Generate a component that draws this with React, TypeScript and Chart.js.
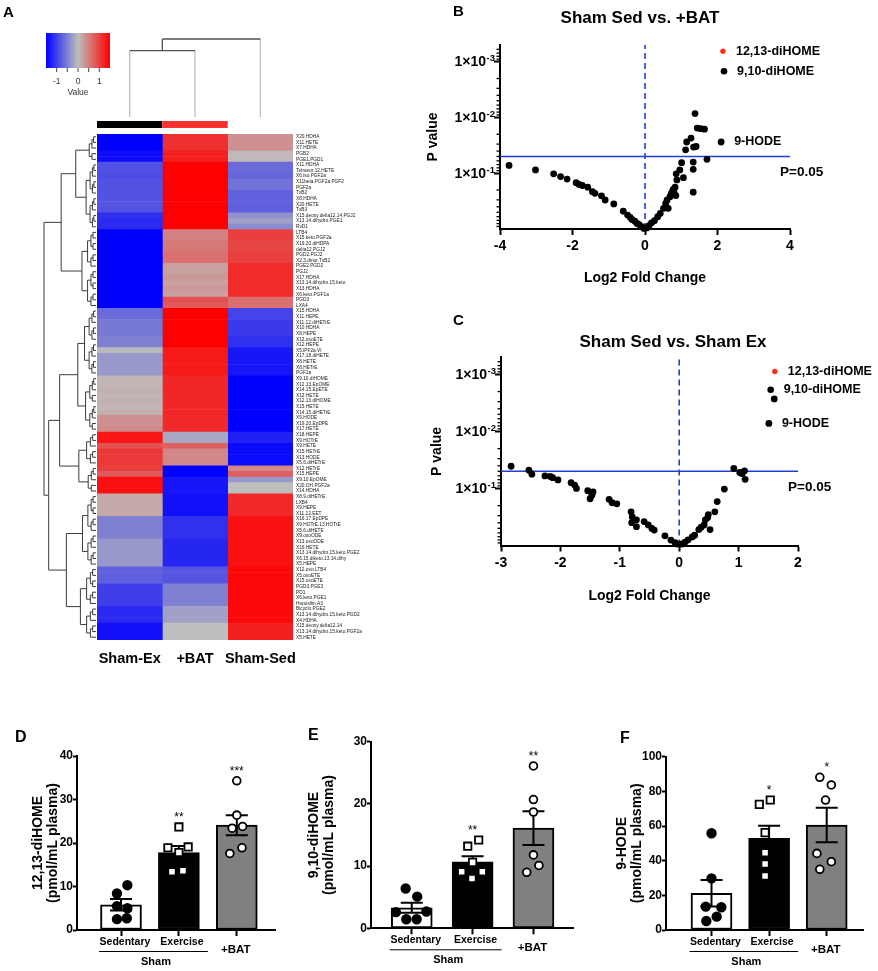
import React, { useEffect, useRef } from 'react';
import { Chart, registerables } from 'chart.js';

Chart.register(...registerables);

const FONT = '"Liberation Sans", Arial, Helvetica, sans-serif';
const bold = (size: number, lineHeight: number = 1.2) => ({ family: FONT, size, weight: 'bold' as const, lineHeight });
const plain = (size: number) => ({ family: FONT, size, weight: 'normal' as const, lineHeight: 1.2 });
const cssFont = (f: any) => `${f.weight} ${f.size}px ${f.family}`;

// ================= Panel A : heatmap =================
const heatColumns = ['Sham-Ex', '+BAT', 'Sham-Sed'];
const heatColumnGroupColors = ['#000000', '#ff3030', ''];
const heatRange = [-1.5, 1.5];
const colorbarTickValues = [-1, -0.5, 0, 0.5, 1];
const colorbarLabelValues = [-1, 0, 1];
const columnMergeDistances = [3.4, 4.0];

const heatRowLabels = [
  'X20.HDHA', 'X11.HETE', 'X7.HDHA', 'PGB2', 'PGE1.PGD1',
  'X11.HDHA', 'Tetranor.12.HETE', 'X6.iso.PGF2a', 'X11beta.PGF2a.PGF2', 'PGF2a',
  'TxB2', 'X8.HDHA', 'X20.HETE', 'TxB3',
  'X15.deoxy.delta12.14.PGJ2', 'X13.14.dihydro.PGE1', 'RvD1',
  'LTB4', 'X15.keto.PGF2a', 'X19.20.diHDPA', 'delta12.PGJ2', 'PGD2.PGJ2', 'X2.3.dinor.TxB2',
  'PGE2.PGD2', 'PGJ2', 'X17.HDHA', 'X13.14.dihydro.15.keto', 'X13.HDHA', 'X6.keto.PGF1a',
  'PGD3', 'LXA4',
  'X15.HDHA', 'X11.HEPE', 'X11.12.diHETrE', 'X10.HDHA', 'X8.HEPE', 'X12.oxoETE', 'X12.HEPE',
  'X5.iPF2a.VI', 'X17.18.diHETE', 'X8.HETE', 'X8.HETrE', 'PGF1a',
  'X9.10.diHOME', 'X12.13.EpOME', 'X14.15.EpETE', 'X12.HETE', 'X12.13.diHOME', 'X15.HETE', 'X14.15.diHETrE',
  'X9.HODE', 'X19.20.EpDPE', 'X17.HETE',
  'X18.HEPE', 'X9.HOTrE',
  'X9.HETE', 'X15.HETrE', 'X13.HODE', 'X5.6.diHETrE',
  'X12.HETrE', 'X15.HEPE',
  'X9.10.EpOME', 'X20.OH.PGF2a', 'X14.HDHA',
  'X8.9.diHETrE', 'LXB4', 'X9.HEPE', 'X11.12.EET',
  'X16.17.EpDPE', 'X9.HOTrE.13.HOTrE', 'X5.6.diHETE', 'X9.oxoODE',
  'X13.oxoODE', 'X16.HETE', 'X13.14.dihydro.15.keto.PGE2', 'X6.15.diketo.13.14.dihy', 'X5.HEPE',
  'X12.oxo.LTB4', 'X5.oxoETE', 'X15.oxoETE',
  'PGD3.PGE3', 'PD1', 'X6.keto.PGE1', 'Hepoxilin.A3',
  'Bicyclo.PGE2', 'X13.14.dihydro.15.keto.PGD2', 'X4.HDHA',
  'X15.deoxy.delta12.14', 'X13.14.dihydro.15.keto.PGF2a', 'X5.HETE',
];

const heatShamEx = [
  -1.5, -1.5, -1.5, -1.4, -1.4,
  -0.87, -0.87, -0.9, -0.85, -0.85,
  -0.85, -0.85, -0.82, -0.85,
  -1.12, -1.17, -1.17,
  -1.5, -1.5, -1.5, -1.5, -1.5, -1.5,
  -1.5, -1.5, -1.5, -1.5, -1.5, -1.5,
  -1.5, -1.5,
  -0.66, -0.66, -0.55, -0.55, -0.55, -0.49, -0.49,
  -0.05, -0.3, -0.3, -0.3, -0.3,
  0.07, 0.07, 0.1, 0.07, 0.1, 0.07, 0.1,
  0.36, 0.36, 0.4,
  1.33, 1.33,
  0.87, 1.06, 1.06, 1.06,
  1.0, 0.8,
  1.37, 1.37, 1.37,
  0.17, 0.17, 0.17, 0.17,
  -0.49, -0.49, -0.49, -0.49,
  -0.3, -0.3, -0.3, -0.3, -0.3,
  -0.74, -0.74, -0.74,
  -1.0, -1.0, -1.0, -1.0,
  -1.18, -1.18, -1.18,
  -1.37, -1.37, -1.37,
];
const heatBAT = [
  1.12, 1.12, 1.12, 1.25, 1.25,
  1.5, 1.5, 1.5, 1.5, 1.5,
  1.5, 1.5, 1.5, 1.5,
  1.5, 1.5, 1.5,
  0.49, 0.49, 0.55, 0.55, 0.62, 0.62,
  0.24, 0.24, 0.3, 0.24, 0.3, 0.24,
  0.87, 0.8,
  1.5, 1.5, 1.5, 1.5, 1.5, 1.5, 1.5,
  1.31, 1.31, 1.31, 1.31, 1.31,
  1.2, 1.2, 1.2, 1.2, 1.2, 1.2, 1.2,
  1.18, 1.18, 1.18,
  -0.17, -0.17,
  0.74, 0.43, 0.43, 0.43,
  -1.5, -1.5,
  -1.33, -1.33, -1.33,
  -1.37, -1.37, -1.37, -1.37,
  -1.12, -1.12, -1.12, -1.12,
  -1.2, -1.2, -1.2, -1.2, -1.2,
  -0.83, -0.83, -0.83,
  -0.49, -0.49, -0.49, -0.49,
  -0.24, -0.24, -0.24,
  0.0, 0.0, 0.0,
];
const heatShamSed = [
  0.36, 0.36, 0.36, 0.05, 0.05,
  -0.66, -0.66, -0.7, -0.6, -0.6,
  -0.74, -0.74, -0.74, -0.74,
  -0.36, -0.24, -0.4,
  1.0, 1.0, 0.95, 0.95, 1.0, 1.0,
  1.17, 1.17, 1.17, 1.17, 1.17, 1.17,
  0.62, 0.62,
  -0.96, -0.96, -1.04, -1.04, -1.04, -1.12, -1.12,
  -1.31, -1.33, -1.33, -1.33, -1.33,
  -1.5, -1.5, -1.5, -1.5, -1.5, -1.5, -1.5,
  -1.5, -1.5, -1.5,
  -1.25, -1.25,
  -1.42, -1.42, -1.42, -1.42,
  0.43, 0.74,
  -0.3, 0.0, 0.0,
  1.18, 1.18, 1.18, 1.18,
  1.37, 1.37, 1.37, 1.37,
  1.37, 1.37, 1.37, 1.37, 1.37,
  1.44, 1.44, 1.44,
  1.44, 1.44, 1.44, 1.44,
  1.44, 1.44, 1.44,
  1.25, 1.25, 1.25,
];

// row clustering (merge distances; a block is a run of adjacent rows)
type TreeNode = { h: number; kids: TreeNode[] } | { leaf: number };
const join = (h: number, a: TreeNode, b: TreeNode): TreeNode => ({ h, kids: [a, b] });
const block = (first: number, last: number, h: number): TreeNode => {
  if (first === last) return { leaf: first };
  const mid = Math.floor((first + last) / 2);
  return join(h, block(first, mid, h * 0.6), block(mid + 1, last, h * 0.6));
};
const rowTree = join(10,
  join(6.7, join(3.9, block(0, 4, 1.3), block(5, 16, 1.9)), block(17, 30, 2.7)),
  join(9.1,
    join(7.0,
      join(3.5, block(31, 42, 2.2), block(43, 52, 2.0)),
      join(3.3, block(53, 58, 1.8), block(59, 63, 1.5))),
    join(5.7, block(64, 76, 2.6), block(77, 89, 3.0))));

// ================= Panels B, C : volcano =================
const pThreshold = 0.05;
const volcanoYMax = 3.3;
const volcanoYTicks = [1, 2, 3];
const labeledNames = ['12,13-diHOME', '9,10-diHOME', '9-HODE'];
const labeledColors = ['#ff2a1a', '#000000', '#000000'];
const labeledRadii = [2.7, 3.3, 3.4];

const bXTicks = [-4, -2, 0, 2, 4];
const bLog2FC = [-3.75, -3.02, -2.52, -2.33, -2.15, -1.90, -1.82, -1.73, -1.58, -1.45,
  -1.38, -1.20, -1.10, -0.86, -0.60, -0.48, -0.41, -0.36, -0.28, -0.22,
  -0.16, -0.09, -0.03, 0.05, 0.11, 0.18, 0.26, 0.35, 0.42, 0.51,
  0.57, 0.61, 0.64, 0.69, 0.73, 0.78, 0.83, 0.72, 0.80, 0.85,
  0.76, 0.88, 0.86, 0.96, 1.06, 1.01, 1.12, 1.15, 1.27, 1.33,
  1.33, 1.34, 1.41, 1.33, 1.38, 1.44, 1.54, 1.64, 1.71];
const bNegLog10P = [1.14, 1.06, 0.99, 0.94, 0.895, 0.83, 0.80, 0.78, 0.75, 0.67,
  0.64, 0.595, 0.52, 0.45, 0.32, 0.25, 0.21, 0.17, 0.14, 0.10,
  0.08, 0.04, 0.01, 0.02, 0.06, 0.11, 0.15, 0.22, 0.28, 0.37,
  0.46, 0.52, 0.37, 0.58, 0.64, 0.71, 0.75, 0.62, 0.66, 0.60,
  0.68, 0.88, 0.99, 1.06, 0.92, 1.19, 1.42, 1.56, 1.63, 1.20,
  1.07, 1.47, 1.48, 0.66, 2.07, 1.81, 1.80, 1.79, 1.25];
const bLabelFC = [2.15, 2.18, 2.10];
const bLabelNLP = [3.19, 2.83, 1.56];

const cXTicks = [-3, -2, -1, 0, 1, 2];
const cLog2FC = [-2.83, -2.53, -2.48, -2.26, -2.17, -2.13, -2.04, -1.82, -1.76, -1.73,
  -1.54, -1.45, -1.50, -1.47, -1.18, -1.13, -1.05, -0.81, -0.79, -0.80,
  -0.72, -0.72, -0.59, -0.52, -0.46, -0.42, -0.24, -0.14, -0.07, -0.03,
  0.04, 0.10, 0.15, 0.22, 0.26, 0.33, 0.37, 0.42, 0.44, 0.48,
  0.49, 0.52, 0.60, 0.64, 0.76, 0.92, 1.02, 1.06, 1.10, 1.11, 1.60];
const cNegLog10P = [1.39, 1.32, 1.25, 1.22, 1.21, 1.19, 1.15, 1.10, 1.06, 1.00,
  0.96, 0.94, 0.82, 0.88, 0.81, 0.75, 0.73, 0.59, 0.50, 0.40,
  0.45, 0.33, 0.42, 0.36, 0.30, 0.27, 0.17, 0.096, 0.05, 0.026,
  0.026, 0.06, 0.10, 0.15, 0.18, 0.28, 0.32, 0.36, 0.45, 0.49,
  0.54, 0.28, 0.59, 0.77, 0.99, 1.35, 1.28, 1.26, 1.31, 1.16, 2.57];
const cLabelFC = [1.61, 1.54, 1.51];
const cLabelNLP = [3.05, 2.73, 2.14];

// ================= Panels D, E, F : bars =================
const barCategories = ['Sedentary', 'Exercise', '+BAT'];
const barGroupLabel = 'Sham';
const barFills = ['#ffffff', '#000000', '#808080'];

const dYTicks = [0, 10, 20, 30, 40];
const dMean = [5.8, 17.8, 24.1];
const dSem = [1.3, 1.5, 2.3];
const dSedentary = [10.3, 8.4, 5.5, 5.0, 2.5, 2.7];
const dExercise = [23.7, 18.9, 19.1, 17.8, 13.4, 13.6];
const dBAT = [34.3, 26.4, 23.4, 23.8, 17.6, 18.9];
const dSedJitter = [0.11, -0.07, -0.07, 0.11, -0.07, 0.1];
const dExJitter = [0, -0.19, 0.16, 0, -0.12, 0.07];
const dBatJitter = [0, 0, -0.08, 0.1, -0.12, 0.09];
const dSignif = ['', '**', '***'];

const eYTicks = [0, 10, 20, 30];
const eMean = [3.3, 10.7, 16.1];
const eSem = [0.8, 0.9, 2.7];
const eSedentary = [6.4, 5.1, 2.6, 2.7, 1.45, 1.45];
const eExercise = [13.2, 14.2, 9.1, 9.1, 10.6, 8.0];
const eBAT = [26.1, 20.7, 18.7, 11.8, 9.0, 10.1];
const eSedJitter = [-0.1, 0.09, -0.26, 0.24, -0.09, 0.08];
const eExJitter = [-0.08, 0.1, -0.18, 0.16, 0, -0.01];
const eBatJitter = [0, 0, 0, 0, -0.11, 0.09];
const eSignif = ['', '**', '**'];

const fYTicks = [0, 20, 40, 60, 80, 100];
const fMean = [21.2, 52.9, 60.6];
const fSem = [7.7, 7.3, 10.0];
const fSedentary = [55.8, 29.8, 13.5, 13.1, 5.2, 7.7];
const fExercise = [72.5, 75.0, 56.2, 44.6, 38.1, 31.2];
const fBAT = [88.1, 83.7, 75.0, 44.2, 39.4, 35.0];
const fSedJitter = [0, 0, -0.1, 0.17, -0.09, 0.09];
const fExJitter = [-0.17, 0.02, -0.07, -0.07, -0.07, -0.07];
const fBatJitter = [-0.12, 0.08, -0.02, -0.17, 0.08, -0.12];
const fSignif = ['', '*', '*'];

// ================= helpers =================
function heatColor(v: number): string {
  const t = Math.max(-1, Math.min(1, v / heatRange[1]));
  const g = 190;
  let c: number[];
  if (t < 0) {
    const a = -t;
    c = [g * (1 - a), g * (1 - a), g + (255 - g) * a];
  } else {
    c = [g + (255 - g) * t, g * (1 - t), g * (1 - t)];
  }
  return `rgb(${c.map((n) => Math.round(n)).join(',')})`;
}

function drawTree(ctx: any, node: any, leafX: number, unit: number, yOf: (i: number) => number): { x: number; y: number } {
  if ('leaf' in node) return { x: leafX, y: yOf(node.leaf) };
  const a = drawTree(ctx, node.kids[0], leafX, unit, yOf);
  const b = drawTree(ctx, node.kids[1], leafX, unit, yOf);
  const x = leafX - node.h * unit;
  ctx.beginPath();
  ctx.moveTo(a.x, a.y);
  ctx.lineTo(x, a.y);
  ctx.lineTo(x, b.y);
  ctx.lineTo(b.x, b.y);
  ctx.stroke();
  return { x, y: (a.y + b.y) / 2 };
}

const seg = (ctx: any, x1: number, y1: number, x2: number, y2: number) => {
  ctx.beginPath();
  ctx.moveTo(x1, y1);
  ctx.lineTo(x2, y2);
  ctx.stroke();
};

// ================= Heatmap =================
const heatDecorPlugin = {
  id: 'heatDecor',
  afterDraw(chart: any) {
    const { ctx, chartArea: ca } = chart;
    const xs = chart.scales.x;
    const ys = chart.scales.y;
    ctx.save();
    ctx.fillStyle = '#000';
    ctx.font = cssFont(bold(15));
    ctx.textAlign = 'left';
    ctx.textBaseline = 'alphabetic';
    ctx.fillText('A', 3, 17);

    // colour key
    const kx = 46, ky = 33, kw = 64, kh = 35;
    const [lo, hi] = heatRange;
    const grad = ctx.createLinearGradient(kx, 0, kx + kw, 0);
    for (let i = 0; i <= 30; i++) grad.addColorStop(i / 30, heatColor(lo + ((hi - lo) * i) / 30));
    ctx.fillStyle = grad;
    ctx.fillRect(kx, ky, kw, kh);
    const kpx = (v: number) => kx + ((v - lo) / (hi - lo)) * kw;
    ctx.strokeStyle = '#444';
    ctx.lineWidth = 1;
    colorbarTickValues.forEach((v) => seg(ctx, kpx(v), ky + kh, kpx(v), ky + kh + 4));
    ctx.fillStyle = '#333';
    ctx.font = cssFont(plain(8.5));
    ctx.textAlign = 'center';
    ctx.textBaseline = 'middle';
    colorbarLabelValues.forEach((v) => ctx.fillText(String(v), kpx(v), ky + kh + 14));
    ctx.fillText('Value', kx + kw / 2, ky + kh + 25);

    // column annotation strip
    heatColumnGroupColors.forEach((c, i) => {
      if (!c) return;
      const x0 = xs.getPixelForValue(i);
      const x1 = xs.getPixelForValue(i + 1);
      ctx.fillStyle = c;
      ctx.fillRect(x0, ca.top - 13, x1 - x0, 7);
    });

    // column dendrogram
    const leafY = ca.top - 17;
    const unit = 19.5;
    const cx = (i: number) => xs.getPixelForValue(i + 0.5);
    const j1 = leafY - columnMergeDistances[0] * unit;
    const j2 = leafY - columnMergeDistances[1] * unit;
    const mid = (cx(0) + cx(1)) / 2;
    ctx.lineWidth = 1.3;
    ctx.strokeStyle = '#bdbdbd';
    seg(ctx, cx(0), leafY, cx(0), j1);
    seg(ctx, cx(1), leafY, cx(1), j1);
    seg(ctx, cx(2), leafY, cx(2), j2);
    ctx.strokeStyle = '#505050';
    seg(ctx, cx(0), j1, cx(1), j1);
    seg(ctx, mid, j1, mid, j2);
    seg(ctx, mid, j2, cx(2), j2);

    // row dendrogram
    ctx.strokeStyle = '#3c3c3c';
    ctx.lineWidth = 1;
    drawTree(ctx, rowTree, ca.left - 1, 5.2, (i) => ys.getPixelForValue(i));
    ctx.restore();
  },
};

function makeHeatmap() {
  const series = [heatShamEx, heatBAT, heatShamSed];
  return {
    type: 'bar',
    data: {
      labels: heatRowLabels,
      datasets: series.map((vals, i) => ({
        label: heatColumns[i],
        data: vals.map(() => 1),
        backgroundColor: vals.map(heatColor),
        borderWidth: 0,
        barPercentage: 1,
        categoryPercentage: 1,
      })),
    },
    options: {
      indexAxis: 'y',
      responsive: false,
      animation: false,
      events: [],
      layout: { padding: { left: 97, top: 134, right: 0, bottom: 0 } },
      plugins: { legend: { display: false }, tooltip: { enabled: false } },
      scales: {
        x: {
          type: 'linear',
          stacked: true,
          min: 0,
          max: heatColumns.length,
          position: 'bottom',
          grid: { display: false, drawTicks: false },
          border: { display: false },
          afterBuildTicks: (s: any) => { s.ticks = heatColumns.map((_, i) => ({ value: i + 0.5 })); },
          afterFit: (s: any) => { s.height = 30; },
          ticks: {
            padding: 10, color: '#000', font: bold(14.5), maxRotation: 0, autoSkip: false,
            callback: (_v: any, i: number) => heatColumns[i],
          },
        },
        y: {
          type: 'category',
          stacked: true,
          position: 'right',
          grid: { display: false, drawTicks: false },
          border: { display: false },
          afterFit: (s: any) => { s.width = 122; },
          ticks: { autoSkip: false, padding: 3, color: '#1a1a1a', font: plain(4.8) },
        },
      },
    },
    plugins: [heatDecorPlugin],
  };
}

// ================= Volcano =================
const lineBlue = '#1f3fd2';

function volcanoDecor(s: any) {
  return {
    id: 'volcanoDecor',
    afterDraw(chart: any) {
      const { ctx, chartArea: ca } = chart;
      const xs = chart.scales.x;
      const ys = chart.scales.y;
      ctx.save();
      ctx.fillStyle = '#000';
      ctx.textBaseline = 'alphabetic';
      ctx.textAlign = 'left';
      ctx.font = cssFont(bold(15));
      ctx.fillText(s.letter, s.letterX, s.letterY);
      ctx.textAlign = 'center';
      ctx.font = cssFont(bold(17));
      ctx.fillText(s.title, s.titleX, s.titleY);

      // y tick labels 1×10^-k
      volcanoYTicks.forEach((k) => {
        const py = ys.getPixelForValue(k);
        const xr = ca.left - 14;
        ctx.textAlign = 'right';
        ctx.textBaseline = 'middle';
        ctx.font = cssFont(bold(14));
        ctx.fillText('1×10', xr, py + 0.5);
        ctx.textAlign = 'left';
        ctx.textBaseline = 'alphabetic';
        ctx.font = cssFont(bold(9.5));
        ctx.fillText('-' + k, xr + 0.5, py - 0.5);
      });

      // minor log ticks
      ctx.strokeStyle = '#000';
      ctx.lineWidth = 1.3;
      for (let d = 1; d <= 4; d++) {
        for (let m = 2; m <= 9; m++) {
          const v = d - Math.log10(m);
          if (v <= ys.min || v >= ys.max) continue;
          const py = ys.getPixelForValue(v);
          seg(ctx, ca.left - 3.5, py, ca.left, py);
        }
      }

      // labelled lipids
      ctx.font = cssFont(bold(12.5));
      ctx.textAlign = 'left';
      ctx.textBaseline = 'middle';
      labeledNames.forEach((name, i) => {
        ctx.fillText(name, xs.getPixelForValue(s.labelFC[i]) + 13, ys.getPixelForValue(s.labelNLP[i]));
      });

      // threshold text
      ctx.font = cssFont(bold(13.5));
      ctx.fillText(`P=${pThreshold}`, ca.right - 10, ys.getPixelForValue(-Math.log10(pThreshold)) + 16);
      ctx.restore();
    },
  };
}

function makeVolcano(s: any) {
  const ca = s.area;
  const thresh = -Math.log10(pThreshold);
  const axisGrid = { drawOnChartArea: false, tickLength: 6, tickWidth: 2, tickColor: '#000' };
  const axisBorder = { display: true, color: '#000', width: 2 };
  return {
    type: 'scatter',
    data: {
      datasets: [
        {
          data: s.fc.map((x: number, i: number) => ({ x, y: s.nlp[i] })),
          pointRadius: 3.4, pointBackgroundColor: '#000', pointBorderWidth: 0, clip: false, order: 1,
        },
        {
          data: s.labelFC.map((x: number, i: number) => ({ x, y: s.labelNLP[i] })),
          pointRadius: labeledRadii, pointBackgroundColor: labeledColors, pointBorderWidth: 0, clip: false, order: 1,
        },
        {
          type: 'line',
          data: [{ x: s.xMin, y: thresh }, { x: s.xMax, y: thresh }],
          borderColor: lineBlue, borderWidth: 1.6, pointRadius: 0, fill: false, order: 3,
        },
        {
          type: 'line',
          data: [{ x: 0, y: 0 }, { x: 0, y: volcanoYMax }],
          borderColor: lineBlue, borderWidth: 1.6, borderDash: [6, 4], pointRadius: 0, fill: false, order: 3,
        },
      ],
    },
    options: {
      responsive: false,
      animation: false,
      events: [],
      layout: { padding: { left: 0, top: ca.top, right: s.width - ca.right, bottom: 0 } },
      plugins: { legend: { display: false }, tooltip: { enabled: false } },
      scales: {
        x: {
          type: 'linear', min: s.xMin, max: s.xMax,
          afterBuildTicks: (sc: any) => { sc.ticks = s.xTicks.map((v: number) => ({ value: v })); },
          afterFit: (sc: any) => { sc.height = s.height - ca.bottom; },
          ticks: { font: bold(14), color: '#000', padding: 3, maxRotation: 0, autoSkip: false },
          grid: axisGrid,
          border: axisBorder,
          title: {
            display: true, text: 'Log2 Fold Change', color: '#000', font: bold(14),
            padding: { top: 0, bottom: s.height - s.xTitleY - 8.4 },
          },
        },
        y: {
          type: 'linear', min: 0, max: volcanoYMax,
          afterBuildTicks: (sc: any) => { sc.ticks = volcanoYTicks.map((v) => ({ value: v })); },
          afterFit: (sc: any) => { sc.width = ca.left; },
          ticks: { callback: () => '', padding: 0 },
          grid: axisGrid,
          border: axisBorder,
          title: {
            display: true, text: 'P value', color: '#000', font: bold(14),
            padding: { top: s.yTitleX - 8.4, bottom: 0 },
          },
        },
      },
    },
    plugins: [volcanoDecor(s)],
  };
}

const volcanoB = {
  letter: 'B', letterX: 38, letterY: 16, title: 'Sham Sed vs. +BAT', titleX: 225, titleY: 23,
  fc: bLog2FC, nlp: bNegLog10P, labelFC: bLabelFC, labelNLP: bLabelNLP,
  xMin: -4, xMax: 4, xTicks: bXTicks,
  width: 463, height: 300, area: { left: 85, right: 375, top: 45, bottom: 229 }, yTitleX: 18, xTitleY: 278,
};
const volcanoC = {
  letter: 'C', letterX: 38, letterY: 25, title: 'Sham Sed vs. Sham Ex', titleX: 258, titleY: 47,
  fc: cLog2FC, nlp: cNegLog10P, labelFC: cLabelFC, labelNLP: cLabelNLP,
  xMin: -3, xMax: 2, xTicks: cXTicks,
  width: 463, height: 320, area: { left: 86, right: 383, top: 57.3, bottom: 245.5 }, yTitleX: 22, xTitleY: 296,
};

// ================= Bars =================
function barDecor(s: any) {
  const groups = [s.sed, s.ex, s.bat];
  return {
    id: 'barDecor',
    afterDatasetDraw(chart: any, args: any) {
      if (chart.data.datasets[args.index].type !== 'bar') return;
      const { ctx } = chart;
      const xs = chart.scales.x;
      const ys = chart.scales.y;
      ctx.save();
      ctx.strokeStyle = '#000';
      ctx.lineWidth = 2;
      s.mean.forEach((m: number, i: number) => {
        const px = xs.getPixelForValue(i);
        const top = ys.getPixelForValue(m + s.sem[i]);
        const bot = ys.getPixelForValue(m - s.sem[i]);
        ctx.beginPath();
        ctx.moveTo(px, top); ctx.lineTo(px, bot);
        ctx.moveTo(px - 11, top); ctx.lineTo(px + 11, top);
        ctx.moveTo(px - 11, bot); ctx.lineTo(px + 11, bot);
        ctx.stroke();
      });
      ctx.restore();
    },
    afterDraw(chart: any) {
      const { ctx, chartArea: ca } = chart;
      const xs = chart.scales.x;
      const ys = chart.scales.y;
      ctx.save();
      ctx.fillStyle = '#000';
      ctx.strokeStyle = '#000';
      ctx.textAlign = 'left';
      ctx.textBaseline = 'alphabetic';
      ctx.font = cssFont(bold(16));
      ctx.fillText(s.letter, s.letterX, s.letterY);

      const catDx = [4, 3, -1];
      ctx.textAlign = 'center';
      ctx.textBaseline = 'middle';
      barCategories.forEach((c, i) => {
        ctx.font = cssFont(bold(i < 2 ? 10.5 : 11.5));
        ctx.fillText(c, xs.getPixelForValue(i) + catDx[i], ca.bottom + (i < 2 ? 12 : 19.5));
      });
      const p0 = xs.getPixelForValue(0);
      const p1 = xs.getPixelForValue(1);
      ctx.lineWidth = 1;
      seg(ctx, p0 - 22, ca.bottom + 21.5, p1 + 29, ca.bottom + 21.5);
      ctx.font = cssFont(bold(11));
      ctx.fillText(barGroupLabel, (p0 + p1) / 2 + 6, ca.bottom + 32);

      ctx.font = cssFont(plain(12));
      ctx.textBaseline = 'alphabetic';
      s.signif.forEach((txt: string, i: number) => {
        if (!txt) return;
        const top = Math.max(...groups[i]);
        ctx.fillText(txt, xs.getPixelForValue(i), ys.getPixelForValue(top) - 6);
      });
      ctx.restore();
    },
  };
}

function makeBars(s: any) {
  const ca = s.area;
  const groups = [s.sed, s.ex, s.bat];
  const jitters = [s.sedJ, s.exJ, s.batJ];
  const styles = [
    { pointStyle: 'circle', radius: 4.3, bg: '#000000' },
    { pointStyle: 'rect', radius: 5.2, bg: '#ffffff' },
    { pointStyle: 'circle', radius: 3.9, bg: '#ffffff' },
  ];
  const axisBorder = { display: true, color: '#000', width: 2 };
  return {
    type: 'bar',
    data: {
      datasets: [
        {
          type: 'bar',
          data: s.mean.map((m: number, i: number) => ({ x: i, y: m })),
          backgroundColor: barFills, borderColor: '#000', borderWidth: 2, borderSkipped: false,
          barThickness: 41, order: 5,
        },
        ...groups.map((vals: number[], gi: number) => ({
          type: 'scatter',
          data: vals.map((v, j) => ({ x: gi + jitters[gi][j], y: v })),
          pointStyle: styles[gi].pointStyle,
          pointRadius: styles[gi].radius,
          pointBackgroundColor: styles[gi].bg,
          pointBorderColor: '#000',
          pointBorderWidth: 1.8,
          showLine: false,
          clip: false,
          order: 1,
        })),
      ],
    },
    options: {
      responsive: false,
      animation: false,
      events: [],
      layout: { padding: { left: 0, top: ca.top, right: s.width - ca.right, bottom: 0 } },
      plugins: { legend: { display: false }, tooltip: { enabled: false } },
      scales: {
        x: {
          type: 'linear', min: s.xMin, max: s.xMax, offset: false,
          afterBuildTicks: (sc: any) => { sc.ticks = barCategories.map((_, i) => ({ value: i })); },
          afterFit: (sc: any) => { sc.height = s.height - ca.bottom; },
          ticks: { callback: () => '', padding: 0 },
          grid: { offset: false, drawOnChartArea: false, tickLength: 6, tickWidth: 2, tickColor: '#000' },
          border: axisBorder,
        },
        y: {
          type: 'linear', min: 0, max: s.yTicks[s.yTicks.length - 1],
          afterBuildTicks: (sc: any) => { sc.ticks = s.yTicks.map((v: number) => ({ value: v })); },
          afterFit: (sc: any) => { sc.width = ca.left; },
          ticks: { font: bold(12), color: '#000', padding: 0 },
          grid: { drawOnChartArea: false, tickLength: 4, tickWidth: 2, tickColor: '#000' },
          border: axisBorder,
          title: {
            display: true, text: s.yTitle, color: '#000', font: bold(14, 15 / 14),
            padding: { top: s.yTitleX - 7.5, bottom: 0 },
          },
        },
      },
    },
    plugins: [barDecor(s)],
  };
}

const barsD = {
  letter: 'D', letterX: 15, letterY: 82,
  mean: dMean, sem: dSem, sed: dSedentary, ex: dExercise, bat: dBAT,
  sedJ: dSedJitter, exJ: dExJitter, batJ: dBatJitter, signif: dSignif,
  yTicks: dYTicks, yTitle: ['12,13-diHOME', '(pmol/mL plasma)'], yTitleX: 38.5,
  xMin: -0.76, xMax: 2.66, width: 290, height: 311, area: { left: 77, right: 275, top: 96, bottom: 270 },
};
const barsE = {
  letter: 'E', letterX: 18, letterY: 80,
  mean: eMean, sem: eSem, sed: eSedentary, ex: eExercise, bat: eBAT,
  sedJ: eSedJitter, exJ: eExJitter, batJ: eBatJitter, signif: eSignif,
  yTicks: eYTicks, yTitle: ['9,10-diHOME', '(pmol/mL plasma)'], yTitleX: 24,
  xMin: -0.67, xMax: 2.65, width: 290, height: 311, area: { left: 81, right: 285, top: 81.7, bottom: 268.3 },
};
const barsF = {
  letter: 'F', letterX: 40, letterY: 83,
  mean: fMean, sem: fSem, sed: fSedentary, ex: fExercise, bat: fBAT,
  sedJ: fSedJitter, exJ: fExJitter, batJ: fBatJitter, signif: fSignif,
  yTicks: fYTicks, yTitle: ['9-HODE', '(pmol/mL plasma)'], yTitleX: 42,
  xMin: -0.79, xMax: 2.63, width: 298, height: 311, area: { left: 86, right: 283, top: 96.7, bottom: 270 },
};

// ================= React =================
function ChartBox({ left, top, width, height, build }: any) {
  const ref = useRef<HTMLCanvasElement | null>(null);
  useEffect(() => {
    if (!ref.current) return;
    const chart = new Chart(ref.current, build() as any);
    return () => chart.destroy();
  }, []);
  return (
    <canvas
      ref={ref}
      width={width}
      height={height}
      style={{ position: 'absolute', left, top, width, height, display: 'block' }}
    />
  );
}

export default function App() {
  return (
    <div style={{ position: 'absolute', left: 0, top: 0, width: 878, height: 971, background: '#fff', overflow: 'hidden' }}>
      <ChartBox left={0} top={0} width={415} height={670} build={makeHeatmap} />
      <ChartBox left={415} top={0} width={463} height={300} build={() => makeVolcano(volcanoB)} />
      <ChartBox left={415} top={300} width={463} height={320} build={() => makeVolcano(volcanoC)} />
      <ChartBox left={0} top={660} width={290} height={311} build={() => makeBars(barsD)} />
      <ChartBox left={290} top={660} width={290} height={311} build={() => makeBars(barsE)} />
      <ChartBox left={580} top={660} width={298} height={311} build={() => makeBars(barsF)} />
    </div>
  );
}
